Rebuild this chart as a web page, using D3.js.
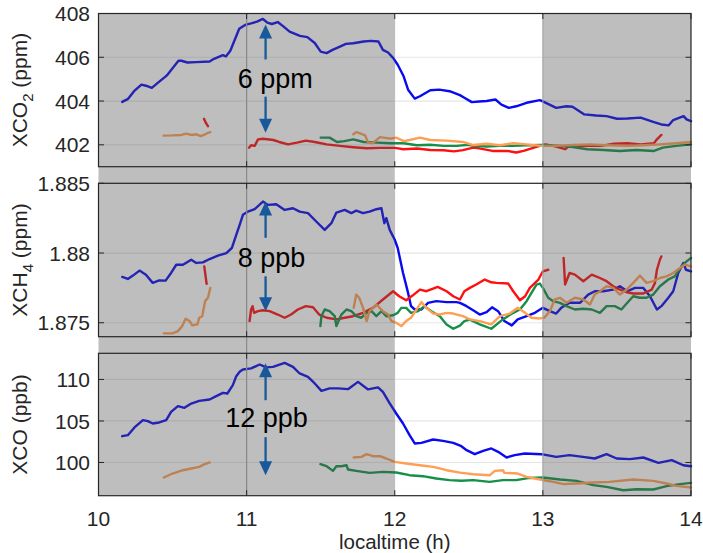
<!DOCTYPE html>
<html><head><meta charset="utf-8">
<script src="https://cdn.jsdelivr.net/npm/d3@7"></script>
<style>body{margin:0;background:#fff}svg{display:block}text{font-family:"Liberation Sans",Arial,sans-serif}</style>
</head><body><svg id="c" width="703" height="553"></svg>
<script>
// ---------- data ----------
const xTicks = [10, 11, 12, 13, 14];
const co2Ticks = [402, 404, 406, 408];
const ch4Ticks = [1.875, 1.88, 1.885];
const ch4TickLabels = ["1.875", "1.88", "1.885"];
const coTicks = [100, 105, 110];
const shadedHours = [[10, 12], [13, 14]];

const co2Blue = [[10.16,403.96],[10.2,404.1],[10.24,404.45],[10.29,404.75],[10.32,404.7],[10.36,404.6],[10.4,404.83],[10.46,405.16],[10.5,405.5],[10.54,405.84],[10.56,405.84],[10.6,405.76],[10.66,405.78],[10.75,405.81],[10.78,405.93],[10.84,406.1],[10.86,406.04],[10.89,406.3],[10.92,406.8],[10.95,407.3],[10.99,407.48],[11.03,407.55],[11.07,407.63],[11.11,407.75],[11.14,407.58],[11.17,407.52],[11.21,407.61],[11.25,407.4],[11.29,407.17],[11.36,406.98],[11.41,406.92],[11.46,406.65],[11.5,406.26],[11.54,406.19],[11.58,406.34],[11.63,406.49],[11.67,406.61],[11.72,406.64],[11.79,406.72],[11.84,406.75],[11.89,406.72],[11.92,406.34],[11.955,406.22],[11.99,405.96],[12.02,405.66],[12.06,405.13],[12.09,404.52],[12.135,404.11],[12.17,404.22],[12.24,404.49],[12.3,404.52],[12.37,404.45],[12.44,404.27],[12.47,404.15],[12.52,403.95],[12.57,403.98],[12.62,404.0],[12.68,404.07],[12.72,403.84],[12.77,403.69],[12.82,403.76],[12.89,403.92],[12.98,404.04],[13.01,403.95],[13.09,403.69],[13.16,403.76],[13.2,403.74],[13.28,403.39],[13.36,403.34],[13.43,403.31],[13.5,403.19],[13.57,403.2],[13.66,403.24],[13.75,403.04],[13.8,402.93],[13.85,402.89],[13.88,403.13],[13.95,403.31],[13.97,403.16],[14.0,403.08]];
const co2Red = [[10.712,403.19],[10.725,403.0],[10.739,402.85],null,[11.016,401.87],[11.03,401.98],[11.054,401.95],[11.077,402.25],[11.11,402.28],[11.18,402.22],[11.22,402.13],[11.28,402.02],[11.34,402.1],[11.4,402.19],[11.46,402.13],[11.54,402.02],[11.63,401.95],[11.72,401.89],[11.81,401.84],[11.9,401.86],[12.0,401.86],[12.06,401.8],[12.15,401.83],[12.24,401.76],[12.33,401.75],[12.4,401.7],[12.46,401.76],[12.53,401.87],[12.57,401.84],[12.66,401.72],[12.76,401.72],[12.82,401.65],[12.87,401.72],[12.94,401.87],[12.99,401.98],[13.02,402.02],[13.09,401.92],[13.15,401.8],[13.18,401.95],[13.3,401.95],[13.39,401.95],[13.48,402.05],[13.57,402.07],[13.66,402.02],[13.75,402.07],[13.77,402.25],[13.8,402.45]];
const co2Green = [[11.5,402.33],[11.56,402.33],[11.61,402.13],[11.66,402.17],[11.72,402.25],[11.79,402.13],[11.88,402.1],[11.97,402.07],[12.06,402.07],[12.15,401.98],[12.24,402.0],[12.33,401.95],[12.42,401.95],[12.5,402.0],[12.53,401.95],[12.62,401.92],[12.71,401.95],[12.8,401.95],[12.89,401.98],[12.99,401.99],[13.12,401.95],[13.2,401.9],[13.3,401.8],[13.41,401.76],[13.52,401.72],[13.63,401.76],[13.75,401.72],[13.81,401.87],[13.9,401.95],[14.0,402.02]];
const co2Orange = [[10.44,402.42],[10.5,402.43],[10.56,402.45],[10.59,402.51],[10.63,402.45],[10.66,402.48],[10.69,402.4],[10.72,402.48],[10.74,402.55],[10.755,402.58],null,[11.72,402.48],[11.74,402.58],[11.77,402.51],[11.8,402.43],[11.82,402.1],[11.85,402.07],[11.9,402.35],[11.97,402.28],[12.01,402.33],[12.06,402.17],[12.1,402.22],[12.17,402.33],[12.24,402.22],[12.35,402.19],[12.46,402.13],[12.53,401.99],[12.62,402.05],[12.71,401.98],[12.8,402.07],[12.89,402.02],[12.99,401.95],[13.09,401.95],[13.2,401.99],[13.32,402.02],[13.43,401.98],[13.57,401.95],[13.68,401.98],[13.79,402.02],[13.9,402.07],[14.0,402.13]];

const ch4Blue = [[10.16,1.87829],[10.198,1.87814],[10.232,1.87838],[10.277,1.87874],[10.32,1.87845],[10.366,1.87786],[10.41,1.87804],[10.453,1.87802],[10.49,1.87857],[10.525,1.87916],[10.57,1.87916],[10.626,1.87952],[10.66,1.87929],[10.705,1.87933],[10.75,1.87957],[10.806,1.87981],[10.863,1.88],[10.9,1.88036],[10.93,1.88131],[10.953,1.88202],[10.975,1.88274],[11.009,1.88297],[11.054,1.88314],[11.11,1.88369],[11.144,1.88345],[11.2,1.8835],[11.257,1.88309],[11.313,1.88321],[11.358,1.88297],[11.414,1.88286],[11.47,1.88226],[11.527,1.88166],[11.572,1.88214],[11.606,1.8829],[11.662,1.88309],[11.707,1.88286],[11.74,1.88304],[11.786,1.88286],[11.83,1.88297],[11.876,1.88314],[11.91,1.88321],[11.93,1.88214],[11.943,1.8825],[11.966,1.88166],[12.0,1.88095],[12.02,1.88036],[12.056,1.87857],[12.09,1.87714],[12.11,1.87619],[12.135,1.87595],[12.18,1.87595],[12.225,1.87643],[12.28,1.87655],[12.35,1.87648],[12.417,1.87648],[12.44,1.87643],[12.485,1.87619],[12.54,1.87583],[12.574,1.87559],[12.62,1.87576],[12.657,1.87611],[12.698,1.87583],[12.74,1.87512],[12.79,1.87481],[12.83,1.87524],[12.89,1.87548],[12.946,1.87571],[13.0,1.87607],[13.047,1.87583],[13.09,1.87566],[13.124,1.87607],[13.18,1.87643],[13.25,1.87643],[13.306,1.87702],[13.35,1.87726],[13.407,1.87726],[13.475,1.87738],[13.52,1.87762],[13.57,1.87726],[13.622,1.8775],[13.678,1.8775],[13.723,1.8769],[13.77,1.87595],[13.8,1.87619],[13.847,1.87679],[13.88,1.87726],[13.914,1.87857],[13.948,1.87929],[13.966,1.8788],[14.0,1.87869]];
const ch4Red = [[10.714,1.87904],[10.73,1.87779],null,[11.02,1.87512],[11.03,1.87595],[11.04,1.87619],[11.05,1.87571],[11.077,1.87583],[11.11,1.8759],[11.155,1.87583],[11.21,1.87559],[11.257,1.87536],[11.3,1.87559],[11.346,1.87595],[11.4,1.87619],[11.448,1.87611],[11.49,1.87559],[11.54,1.87536],[11.606,1.87524],[11.662,1.87536],[11.718,1.87547],[11.786,1.87571],[11.853,1.87607],[11.92,1.87667],[11.989,1.87726],[12.03,1.8769],[12.077,1.87661],[12.12,1.87695],[12.17,1.87738],[12.214,1.87726],[12.29,1.87757],[12.35,1.87726],[12.395,1.8769],[12.44,1.87667],[12.47,1.87726],[12.507,1.8775],[12.55,1.87774],[12.608,1.8781],[12.652,1.8779],[12.686,1.87786],[12.766,1.87781],[12.8,1.87726],[12.845,1.87661],[12.88,1.8769],[12.912,1.8775],[12.97,1.8781],[13.0,1.87869],[13.036,1.8788],null,[13.14,1.87964],[13.15,1.87774],[13.18,1.87857],[13.216,1.87845],[13.273,1.87798],[13.33,1.87845],[13.385,1.87821],[13.43,1.87798],[13.475,1.87762],[13.52,1.87738],[13.566,1.87719],[13.61,1.8771],[13.678,1.8771],[13.735,1.87738],[13.757,1.87786],[13.77,1.8788],[13.79,1.87952],[13.8,1.87976]];
const ch4Green = [[11.498,1.87476],[11.505,1.87547],[11.527,1.87595],[11.56,1.87583],[11.595,1.87547],[11.606,1.87476],[11.64,1.87559],[11.674,1.87595],[11.707,1.87583],[11.74,1.87547],[11.775,1.87536],[11.81,1.87571],[11.843,1.87583],[11.876,1.87547],[11.91,1.87583],[11.943,1.87547],[11.989,1.87554],[12.02,1.87571],[12.044,1.87607],[12.077,1.87607],[12.11,1.87571],[12.158,1.87583],[12.2,1.87619],[12.247,1.87583],[12.304,1.87547],[12.35,1.87488],[12.395,1.87457],[12.44,1.8748],[12.47,1.87512],[12.507,1.87522],[12.574,1.87488],[12.652,1.87457],[12.73,1.87524],[12.8,1.87571],[12.845,1.87595],[12.89,1.87655],[12.923,1.87714],[12.957,1.87774],[12.98,1.87781],[13.0,1.8775],[13.036,1.87679],[13.07,1.87655],[13.115,1.87643],[13.16,1.87619],[13.216,1.87595],[13.273,1.876],[13.33,1.87595],[13.385,1.87571],[13.43,1.87619],[13.486,1.87619],[13.53,1.87595],[13.57,1.87643],[13.61,1.8769],[13.655,1.87679],[13.7,1.87679],[13.745,1.87702],[13.79,1.87762],[13.847,1.8781],[13.89,1.87833],[13.936,1.87904],[13.97,1.8794],[14.0,1.87964]];
const ch4Orange = [[10.441,1.87424],[10.5,1.87424],[10.536,1.8744],[10.565,1.87476],[10.588,1.87529],[10.615,1.87512],[10.633,1.87481],[10.668,1.87488],[10.68,1.87536],[10.7,1.87547],[10.72,1.87655],[10.739,1.87679],[10.755,1.8775],null,[11.723,1.87607],[11.74,1.87702],[11.76,1.87679],[11.786,1.87607],[11.81,1.87512],[11.83,1.87583],[11.876,1.87631],[11.92,1.87583],[11.955,1.87559],[11.977,1.87512],[12.01,1.875],[12.044,1.87476],[12.077,1.87512],[12.11,1.87536],[12.147,1.87595],[12.18,1.87648],[12.214,1.87607],[12.26,1.87566],[12.304,1.87559],[12.35,1.87571],[12.395,1.87566],[12.46,1.87547],[12.507,1.87524],[12.574,1.87512],[12.652,1.87488],[12.71,1.87547],[12.777,1.87566],[12.83,1.87607],[12.88,1.87571],[12.923,1.87536],[12.98,1.87531],[13.01,1.87536],[13.047,1.87583],[13.08,1.87667],[13.115,1.87679],[13.16,1.87643],[13.216,1.87679],[13.273,1.87667],[13.318,1.87631],[13.35,1.87702],[13.385,1.87726],[13.43,1.87762],[13.475,1.8775],[13.52,1.87702],[13.566,1.87738],[13.61,1.87786],[13.655,1.87838],[13.7,1.87786],[13.745,1.87798],[13.79,1.87821],[13.835,1.87833],[13.88,1.87857],[13.926,1.87893],[13.96,1.87917],[14.0,1.87904]];

const coBlue = [[10.16,103.17],[10.198,103.29],[10.243,104.22],[10.3,105.1],[10.333,104.98],[10.366,104.7],[10.41,104.82],[10.457,105.1],[10.49,106.1],[10.536,106.78],[10.58,106.58],[10.626,107.1],[10.68,107.42],[10.75,107.59],[10.795,107.99],[10.84,108.39],[10.87,108.31],[10.907,109.31],[10.93,110.4],[10.953,110.92],[10.975,111.2],[11.03,111.33],[11.088,111.8],[11.133,111.45],[11.178,111.52],[11.257,112.0],[11.313,111.52],[11.358,110.72],[11.414,110.31],[11.46,109.52],[11.505,108.63],[11.56,108.92],[11.617,108.92],[11.684,108.83],[11.752,109.71],[11.82,108.8],[11.887,109.04],[11.92,108.51],[11.966,107.11],[12.01,105.9],[12.056,104.7],[12.1,103.29],[12.135,102.29],[12.18,102.36],[12.259,102.77],[12.326,102.6],[12.395,102.36],[12.45,101.96],[12.485,101.48],[12.54,101.0],[12.597,101.4],[12.652,101.69],[12.698,101.28],[12.755,100.6],[12.81,100.88],[12.878,101.08],[12.99,101.0],[13.09,100.67],[13.18,100.88],[13.27,100.67],[13.35,100.48],[13.43,101.0],[13.498,100.48],[13.588,100.4],[13.678,100.6],[13.78,99.95],[13.87,100.28],[13.948,99.67],[14.0,99.55]];
const coGreen = [[11.498,99.8],[11.54,99.55],[11.583,98.99],[11.606,99.55],[11.64,99.55],[11.674,99.67],[11.684,99.16],[11.74,98.99],[11.83,98.75],[11.92,98.87],[12.01,98.8],[12.1,98.47],[12.19,98.35],[12.28,98.07],[12.37,97.87],[12.45,97.8],[12.53,97.87],[12.64,97.66],[12.73,97.87],[12.82,97.87],[12.91,98.14],[13.0,98.19],[13.115,97.95],[13.227,97.78],[13.34,97.27],[13.43,97.06],[13.543,96.66],[13.633,96.78],[13.745,96.75],[13.835,97.15],[13.926,97.39],[14.0,97.54]];
const coOrange = [[10.441,98.19],[10.5,98.67],[10.57,99.07],[10.626,99.28],[10.68,99.47],[10.716,99.8],[10.75,100.0],null,[11.723,100.6],[11.775,100.67],[11.81,101.0],[11.853,100.76],[11.9,100.76],[11.943,100.48],[12.0,100.07],[12.077,99.88],[12.17,99.67],[12.26,99.47],[12.35,99.07],[12.44,98.78],[12.53,98.59],[12.64,98.47],[12.66,98.75],[12.676,98.99],[12.73,99.07],[12.74,98.75],[12.83,98.67],[12.89,98.27],[12.98,97.95],[13.07,97.66],[13.14,97.39],[13.227,97.47],[13.34,97.59],[13.45,97.66],[13.61,97.95],[13.745,97.78],[13.835,97.47],[13.9,97.18],[14.0,96.99]];

// annotations: [top tip, line end, line restart, bottom tip] in data units
const arrowHour = 11.128;
const co2Arrow = [407.5, 405.9, 404.2, 402.55];
const ch4Arrow = [1.88369, 1.88109, 1.87833, 1.87583];
const coArrow = [111.96, 107.5, 103.05, 98.47];

// ---------- layout ----------
const svg = d3.select("#c");
const x = d3.scaleLinear().domain([10, 14]).range([98.5, 691]);
const panels = [
  {top: 13.5, bottom: 166.7, domain: [401, 408], ticks: co2Ticks, labels: co2Ticks.map(String),
   series: [co2Blue, co2Red, co2Green, co2Orange], arrow: co2Arrow, text: "6 ppm", tx: 10.94, ty: 88,
   ylab: ["XCO", "2", " (ppm)"]},
  {top: 183.3, bottom: 336.7, domain: [1.874, 1.885], ticks: ch4Ticks, labels: ch4TickLabels,
   series: [ch4Blue, ch4Red, ch4Green, ch4Orange], arrow: ch4Arrow, text: "8 ppb", tx: 10.94, ty: 266.5,
   ylab: ["XCH", "4", " (ppm)"]},
  {top: 353.3, bottom: 495.7, domain: [96, 113.15], ticks: coTicks, labels: coTicks.map(String),
   series: [coBlue, null, coGreen, coOrange], arrow: coArrow, text: "12 ppb", tx: 10.855, ty: 427,
   ylab: ["XCO (ppb)", "", ""]}
];
const colors = ["#0a0af0", "#ff1010", "#14904a", "#ff9f55"];
const axisColor = "#262626";

const gBack = svg.append("g"), gShade = svg.append("g"), gFront = svg.append("g");

panels.forEach((p, i) => {
  const y = d3.scaleLinear().domain(p.domain).range([p.bottom, p.top]);
  p.y = y;
  gBack.selectAll(null).data(p.ticks).enter().append("line")
    .attr("x1", x(10)).attr("x2", x(14)).attr("y1", d => y(d)).attr("y2", d => y(d))
    .attr("stroke", "#e6e6e6").attr("stroke-width", 1.2);
  gBack.selectAll(null).data([11, 12, 13]).enter().append("line")
    .attr("x1", d => x(d)).attr("x2", d => x(d)).attr("y1", p.top).attr("y2", p.bottom)
    .attr("stroke", "#e6e6e6").attr("stroke-width", 1.2);
  const line = d3.line().defined(d => d != null).x(d => x(d[0])).y(d => y(d[1]));
  p.series.forEach((s, k) => {
    if (!s) return;
    gBack.append("path").attr("d", line(s)).attr("fill", "none")
      .attr("stroke", colors[k]).attr("stroke-width", 2.4)
      .attr("stroke-linejoin", "round").attr("stroke-linecap", "round");
  });
});

const shTop = panels[0].top, shBot = panels[2].bottom;
gShade.selectAll(null).data(shadedHours).enter().append("rect")
  .attr("x", d => x(d[0])).attr("width", d => x(d[1]) - x(d[0]))
  .attr("y", shTop).attr("height", shBot - shTop)
  .attr("fill", "rgb(80,80,80)").attr("fill-opacity", 0.37);
gShade.append("line").attr("x1", x(11)).attr("x2", x(11)).attr("y1", shTop).attr("y2", shBot)
  .attr("stroke", "#8a8a8a").attr("stroke-width", 1.2);
gShade.append("line").attr("x1", x(13)).attr("x2", x(13)).attr("y1", shTop).attr("y2", shBot)
  .attr("stroke", "#a9a9a9").attr("stroke-width", 1);

panels.forEach((p, i) => {
  const y = p.y;
  const tl = 5.5;
  gFront.append("rect").attr("x", x(10)).attr("y", p.top).attr("width", x(14) - x(10))
    .attr("height", p.bottom - p.top).attr("fill", "none").attr("stroke", axisColor).attr("stroke-width", 1.2);
  p.ticks.forEach(t => {
    gFront.append("line").attr("x1", x(10)).attr("x2", x(10) + tl).attr("y1", y(t)).attr("y2", y(t)).attr("stroke", axisColor);
    gFront.append("line").attr("x1", x(14)).attr("x2", x(14) - tl).attr("y1", y(t)).attr("y2", y(t)).attr("stroke", axisColor);
  });
  gFront.selectAll(null).data(p.ticks).enter().append("text")
    .attr("x", 90).attr("y", d => y(d)).attr("dy", "0.36em").attr("text-anchor", "end")
    .attr("font-size", 21).attr("fill", axisColor).text((d, j) => p.labels[j]);
  xTicks.forEach(t => {
    gFront.append("line").attr("x1", x(t)).attr("x2", x(t)).attr("y1", p.top).attr("y2", p.top + tl).attr("stroke", axisColor);
    gFront.append("line").attr("x1", x(t)).attr("x2", x(t)).attr("y1", p.bottom).attr("y2", p.bottom - tl).attr("stroke", axisColor);
  });
  const cy = (p.top + p.bottom) / 2;
  const lab = gFront.append("text").attr("transform", `translate(27,${cy}) rotate(-90)`)
    .attr("text-anchor", "middle").attr("font-size", 21).attr("fill", axisColor);
  lab.append("tspan").text(p.ylab[0]);
  if (p.ylab[1]) {
    lab.append("tspan").attr("font-size", 15).attr("dy", 6).text(p.ylab[1]);
    lab.append("tspan").attr("dy", -6).text(p.ylab[2]);
  }
  const ax = x(arrowHour), ac = "#17599a", hw = 6.5, hl = 14;
  const [a0, a1, a2, a3] = p.arrow.map(v => y(v));
  gFront.append("line").attr("x1", ax).attr("x2", ax).attr("y1", a0 + hl - 1).attr("y2", a1).attr("stroke", ac).attr("stroke-width", 2.3);
  gFront.append("line").attr("x1", ax).attr("x2", ax).attr("y1", a2).attr("y2", a3 - hl + 1).attr("stroke", ac).attr("stroke-width", 2.3);
  gFront.append("path").attr("d", `M${ax},${a0} L${ax - hw},${a0 + hl} L${ax + hw},${a0 + hl} Z`).attr("fill", ac);
  gFront.append("path").attr("d", `M${ax},${a3} L${ax - hw},${a3 - hl} L${ax + hw},${a3 - hl} Z`).attr("fill", ac);
  gFront.append("text").attr("x", x(p.tx)).attr("y", p.ty).attr("font-size", 27).attr("fill", "#000").text(p.text);
});

gFront.selectAll(null).data(xTicks).enter().append("text")
  .attr("x", d => x(d)).attr("y", 525.5).attr("text-anchor", "middle")
  .attr("font-size", 21).attr("fill", axisColor).text(d => d);
gFront.append("text").attr("x", x(12)).attr("y", 549).attr("text-anchor", "middle")
  .attr("font-size", 20.5).attr("fill", axisColor).text("localtime (h)");
</script></body></html>
